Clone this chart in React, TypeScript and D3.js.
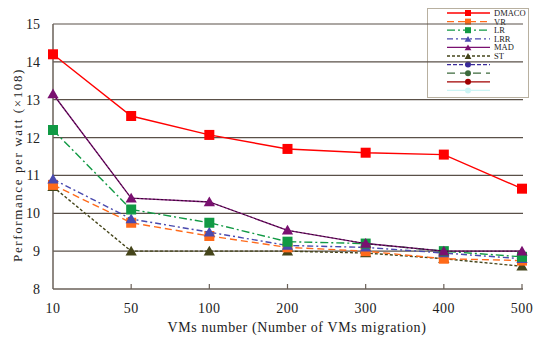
import React, {useRef, useEffect} from 'react';
import * as d3 from 'd3';

const categories = ['10', '50', '100', '200', '300', '400', '500'];
const yTicks = [8, 9, 10, 11, 12, 13, 14, 15];

const dmaco = [14.2, 12.57, 12.07, 11.7, 11.6, 11.55, 10.65];
const vr = [10.75, 9.75, 9.4, 9.1, 9.0, 8.8, 8.75];
const lr = [12.2, 10.1, 9.75, 9.25, 9.2, 9.0, 8.85];
const lrr = [10.9, 9.85, 9.5, 9.15, 9.1, 8.95, 8.8];
const mad = [13.15, 10.4, 10.3, 9.55, 9.2, 9.0, 9.0];
const st = [10.7, 9.0, 9.0, 9.0, 8.95, 8.8, 8.6];

const series = [
  {name: 'DMACO', values: dmaco, color: '#ff0000', dash: '', marker: 'square'},
  {name: 'VR', values: vr, color: '#ff6a1a', dash: '7,4', marker: 'square'},
  {name: 'LR', values: lr, color: '#119944', dash: '8,3,2,3', marker: 'square'},
  {name: 'LRR', values: lrr, color: '#4a4aae', dash: '6,3,2,3', marker: 'triangle'},
  {name: 'MAD', values: mad, color: '#7a1070', dash: '', marker: 'triangle'},
  {name: 'ST', values: st, color: '#45451a', dash: '3,2', marker: 'triangle'},
];

const extraLegend = [
  {name: '', color: '#3a2a9a', dash: '4,2'},
  {name: '', color: '#3c6a3c', dash: '8,5'},
  {name: '', color: '#a00000', dash: ''},
  {name: '', color: '#ccf4f4', dash: ''},
];

const App = () => {
  const chart = useRef<SVGSVGElement>(null);

  useEffect(() => {
    const svg = d3.select(chart.current);
    svg.selectAll('*').remove();

    const left = 53, right = 522, top = 24, bottom = 289;
    const x = d3.scalePoint().domain(categories).range([left, right]);
    const y = d3.scaleLinear().domain([8, 15]).range([bottom, top]);
    const font = '"Liberation Serif", "DejaVu Serif", serif';

    // legend box (drawn first, gridlines run over it)
    const lg = svg.append('g');
    lg.append('rect').attr('x', 427.5).attr('y', 8.5).attr('width', 101).attr('height', 89)
      .attr('fill', 'white').attr('stroke', '#b8b0a0').attr('stroke-width', 1);

    // grid
    svg.append('g').selectAll('line').data(yTicks.slice(1)).enter().append('line')
      .attr('x1', left).attr('x2', right + 1)
      .attr('y1', d => y(d)).attr('y2', d => y(d))
      .attr('stroke', '#5a5048').attr('stroke-width', 1.2);

    // axes
    svg.append('line').attr('x1', left).attr('x2', left).attr('y1', top).attr('y2', bottom)
      .attr('stroke', '#6a6058').attr('stroke-width', 1.5);
    svg.append('line').attr('x1', left).attr('x2', right + 1).attr('y1', bottom).attr('y2', bottom)
      .attr('stroke', '#6a6058').attr('stroke-width', 1.5);
    svg.append('g').selectAll('line').data(categories.slice(1)).enter().append('line')
      .attr('x1', d => x(d)!).attr('x2', d => x(d)!)
      .attr('y1', bottom).attr('y2', bottom - 5)
      .attr('stroke', '#6a6058').attr('stroke-width', 1.2);

    svg.append('g').selectAll('text').data(yTicks).enter().append('text')
      .attr('x', 40).attr('y', d => y(d) + 5)
      .attr('text-anchor', 'end').attr('font-family', font).attr('font-size', 14)
      .attr('fill', '#222').text(d => d);
    svg.append('g').selectAll('text').data(categories).enter().append('text')
      .attr('x', d => x(d)!).attr('y', 313)
      .attr('text-anchor', 'middle').attr('font-family', font).attr('font-size', 14)
      .attr('letter-spacing', 0.5).attr('fill', '#222').text(d => d);

    svg.append('text').attr('x', 297).attr('y', 332).attr('text-anchor', 'middle')
      .attr('font-family', font).attr('font-size', 14).attr('fill', '#222').attr('letter-spacing', 0.6)
      .text('VMs number (Number of VMs migration)');
    svg.append('text').attr('transform', 'translate(22,165) rotate(-90)').attr('text-anchor', 'middle')
      .attr('font-family', font).attr('font-size', 13).attr('fill', '#222').attr('letter-spacing', 1.6)
      .text('Performance per watt (×108)');

    const drawMarker = (g: any, kind: string, cx: number, cy: number, color: string, s: number) => {
      if (kind === 'square') {
        g.append('rect').attr('x', cx - s / 2).attr('y', cy - s / 2).attr('width', s).attr('height', s)
          .attr('fill', color);
      } else if (kind === 'triangle') {
        g.append('path').attr('d', d3.symbol(d3.symbolTriangle, s * s * 0.55)()!)
          .attr('transform', `translate(${cx},${cy + 1})`).attr('fill', color);
      } else {
        g.append('circle').attr('cx', cx).attr('cy', cy).attr('r', s / 2).attr('fill', color);
      }
    };

    const line = d3.line<number>().x((v, i) => x(categories[i])!).y(v => y(v));

    // draw lower series first so DMACO/MAD sit on top
    const order = [5, 1, 3, 2, 4, 0];
    order.forEach(k => {
      const s = series[k];
      const g = svg.append('g');
      g.append('path').datum(s.values).attr('d', line).attr('fill', 'none')
        .attr('stroke', s.color).attr('stroke-width', 1.4)
        .attr('stroke-dasharray', s.dash);
      if (s.name === 'MAD') {
        g.append('path').datum(s.values).attr('d', line).attr('fill', 'none')
          .attr('stroke', '#000').attr('stroke-width', 0.6).attr('stroke-dasharray', '2,2');
      }
      s.values.forEach((v, i) => drawMarker(g, s.marker, x(categories[i])!, y(v), s.color, 10));
    });

    // legend entries
    const rows = [...series.map(s => ({...s})), ...extraLegend.map(e => ({...e, values: [], marker: 'circle'}))];
    rows.forEach((r, i) => {
      const ry = 13 + i * 8.6;
      lg.append('line').attr('x1', 447).attr('x2', 490).attr('y1', ry).attr('y2', ry)
        .attr('stroke', r.color).attr('stroke-width', 1.3).attr('stroke-dasharray', r.dash);
      drawMarker(lg, r.marker, 468, ry, r.color, 6);
      lg.append('text').attr('x', 494).attr('y', ry + 3).attr('font-family', font)
        .attr('font-size', 8.5).attr('fill', '#222').text(r.name);
    });
  });

  return (
    <svg ref={chart} width={533} height={338}
         style={{position: 'absolute', left: 0, top: 0, background: 'white'}}></svg>
  );
};

export default App;
